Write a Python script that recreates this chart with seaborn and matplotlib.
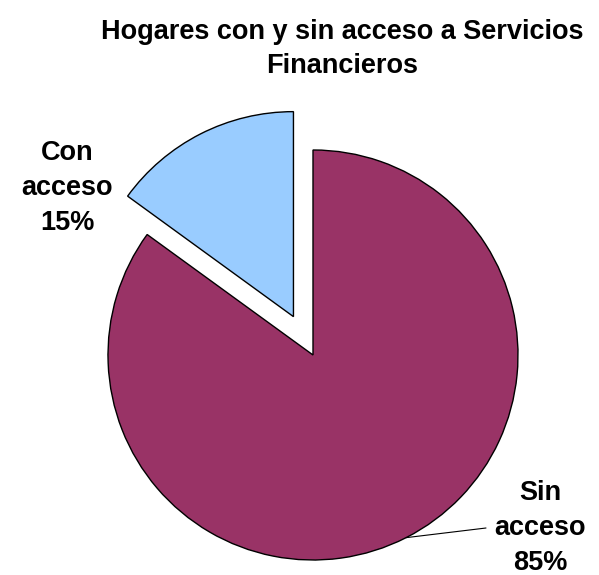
import numpy as np
import matplotlib
matplotlib.use("Agg")
import matplotlib.pyplot as plt
import seaborn as sns

# Household access to financial services
categories = ["Sin acceso", "Con acceso"]
shares = [85, 15]
colors = ["#993366", "#99CCFF"]
title = "Hogares con y sin acceso a Servicios\nFinancieros"

sns.set_theme(style="white")
plt.rcParams["font.family"] = ["Liberation Sans", "DejaVu Sans"]
plt.rcParams["text.color"] = "black"

W, H = 599, 575
fig = plt.figure(figsize=(W / 100, H / 100), dpi=100)
ax = fig.add_axes([0, 0, 1, 1])

wedges, _ = ax.pie(
    shares,
    colors=colors,
    explode=[0, 0.21],
    startangle=90,
    counterclock=False,
    wedgeprops=dict(edgecolor="black", linewidth=1.0),
)

# pixel-to-data mapping: pie centre at (313, 355) px from top-left, radius 205 px
cx, cy, r = 313, 355, 205
ax.set_xlim(-cx / r, (W - cx) / r)
ax.set_ylim(-(H - cy) / r, cy / r)
ax.set_aspect("equal")
ax.axis("off")

def px(x, y):
    return ((x - cx) / r, (cy - y) / r)

lab = [f"{c.replace(' ', chr(10))}\n{v}%" for c, v in zip(categories, shares)]
fs = 19.5

# Sin acceso label with leader line
w0 = wedges[0]
mid = np.deg2rad((w0.theta1 + w0.theta2) / 2)
edge = (np.cos(mid), np.sin(mid))
ax.annotate("", xy=edge, xytext=px(486, 528),
            arrowprops=dict(arrowstyle="-", color="black", lw=0.8, shrinkA=0, shrinkB=0))
ax.text(*px(540, 528), lab[0], ha="center", va="center", fontsize=fs,
        fontweight="bold", linespacing=1.47, color="black")

# Con acceso label
ax.text(*px(67, 188), lab[1], ha="center", va="center", fontsize=fs,
        fontweight="bold", linespacing=1.47, color="black")

fig.text(342 / W, 1 - 49 / H, title, ha="center", va="center", fontsize=fs,
         fontweight="bold", linespacing=1.38, color="black")

fig.savefig("out.png", dpi=100, facecolor="white")
